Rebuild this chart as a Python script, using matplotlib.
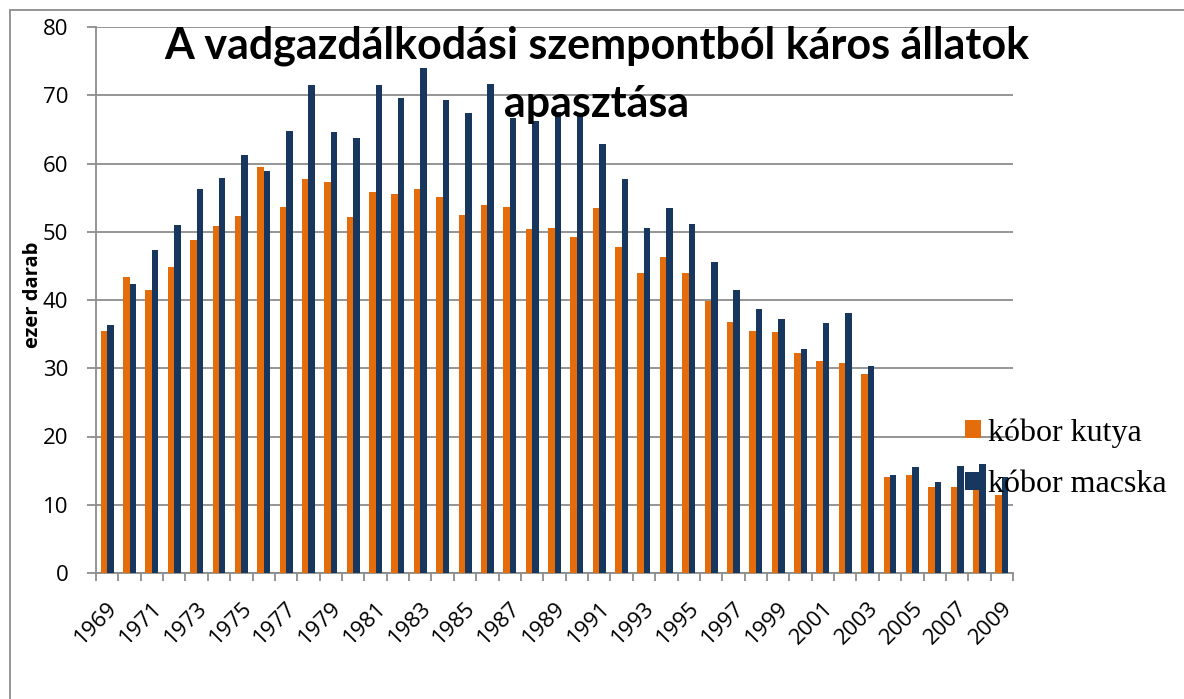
import numpy as np
import matplotlib
matplotlib.use('Agg')
import matplotlib.pyplot as plt
from matplotlib.patches import Rectangle
from matplotlib.transforms import ScaledTranslation

# ===================== 数据 =====================
years = list(range(1969, 2010))
kutya = [35.4, 43.3, 41.5, 44.8, 48.8, 50.8, 52.3, 59.5, 53.6, 57.7,
         57.3, 52.2, 55.8, 55.5, 56.2, 55.1, 52.4, 53.9, 53.6, 50.4,
         50.6, 49.2, 53.5, 47.7, 43.9, 46.3, 43.9, 39.8, 36.8, 35.5,
         35.3, 32.2, 31.1, 30.8, 29.1, 14.1, 14.3, 12.6, 12.6, 12.3,
         11.5]
macska = [36.3, 42.3, 47.3, 51.0, 56.3, 57.9, 61.2, 58.9, 64.7, 71.5,
          64.6, 63.7, 71.5, 69.6, 74.0, 69.3, 67.4, 71.7, 66.7, 66.3,
          67.5, 67.0, 62.9, 57.8, 50.6, 53.5, 51.2, 45.6, 41.5, 38.7,
          37.2, 32.8, 36.7, 38.1, 30.3, 14.4, 15.6, 13.4, 15.7, 16.0,
          14.1]
series_names = ['kóbor kutya', 'kóbor macska']
title_lines = ['A vadgazdálkodási szempontból káros állatok', 'apasztása']
ylabel = 'ezer darab'

# ===================== 样式 =====================
ORANGE = '#E46C0A'
NAVY = '#17375E'
GRID = '#8C8C8C'
W, H = 1184, 699

fig = plt.figure(figsize=(W / 100, H / 100), dpi=100)
ax = fig.add_axes([96 / W, 1 - 573 / H, 917 / W, 546 / H])

x = np.arange(len(years))
bw = 0.29
ax.bar(x - bw / 2, kutya, width=bw, color=ORANGE, label=series_names[0], zorder=3)
ax.bar(x + bw / 2, macska, width=bw, color=NAVY, label=series_names[1], zorder=3)

ax.set_xlim(-0.5, len(years) - 0.5)
ax.set_ylim(0, 80)
ax.set_yticks(range(0, 81, 10))
ax.yaxis.grid(True, color=GRID, lw=1.3, zorder=0)
ax.set_axisbelow(True)

# x 轴：分类边界画刻度，标签每隔一年
ax.set_xticks(x[::2])
ax.set_xticklabels([str(y) for y in years[::2]], rotation=45, ha='right',
                   rotation_mode='anchor', fontsize=16, family='Open Sans')
shift = ScaledTranslation(-3 / 100, 0, fig.dpi_scale_trans)
for lab in ax.get_xticklabels():
    lab.set_transform(lab.get_transform() + shift)
ax.set_xticks(np.arange(-0.5, len(years), 1), minor=True)
ax.tick_params(axis='x', which='major', length=0, pad=18)
ax.tick_params(axis='x', which='minor', length=6, width=1.3, color=GRID)
ax.tick_params(axis='y', length=6.5, width=1.3, color=GRID, pad=13.5, labelsize=16)
for lab in ax.get_yticklabels():
    lab.set_family('Open Sans')

for s in ['top', 'right']:
    ax.spines[s].set_visible(False)
for s in ['left', 'bottom']:
    ax.spines[s].set_color(GRID)
    ax.spines[s].set_linewidth(1.3)

ax.set_ylabel(ylabel, fontsize=14.5, fontweight='bold', family='Open Sans')
ax.yaxis.set_label_coords(-0.058, 0.51)

# 标题压在柱子上（两行分别按基线放）
for txt, base_y in zip(title_lines, [59, 117]):
    fig.text(597 / W, 1 - base_y / H, txt, ha='center', va='baseline', fontsize=31,
             fontweight='bold', family='Lato', zorder=10)

fig.legend(loc='upper left', bbox_to_anchor=(965 / W, 1 - 418 / H),
           frameon=False, prop={'family': 'Liberation Serif', 'size': 23},
           handlelength=0.5, handleheight=0.5, handletextpad=0.22,
           labelspacing=0.72, borderaxespad=0, borderpad=0)

# 外框
fig.patches.append(Rectangle((10 / W, -0.02), 1.1, 1 - 10 / H + 0.02,
                             transform=fig.transFigure, fill=False,
                             edgecolor=GRID, lw=1.3))

fig.savefig('out.png', dpi=100)
